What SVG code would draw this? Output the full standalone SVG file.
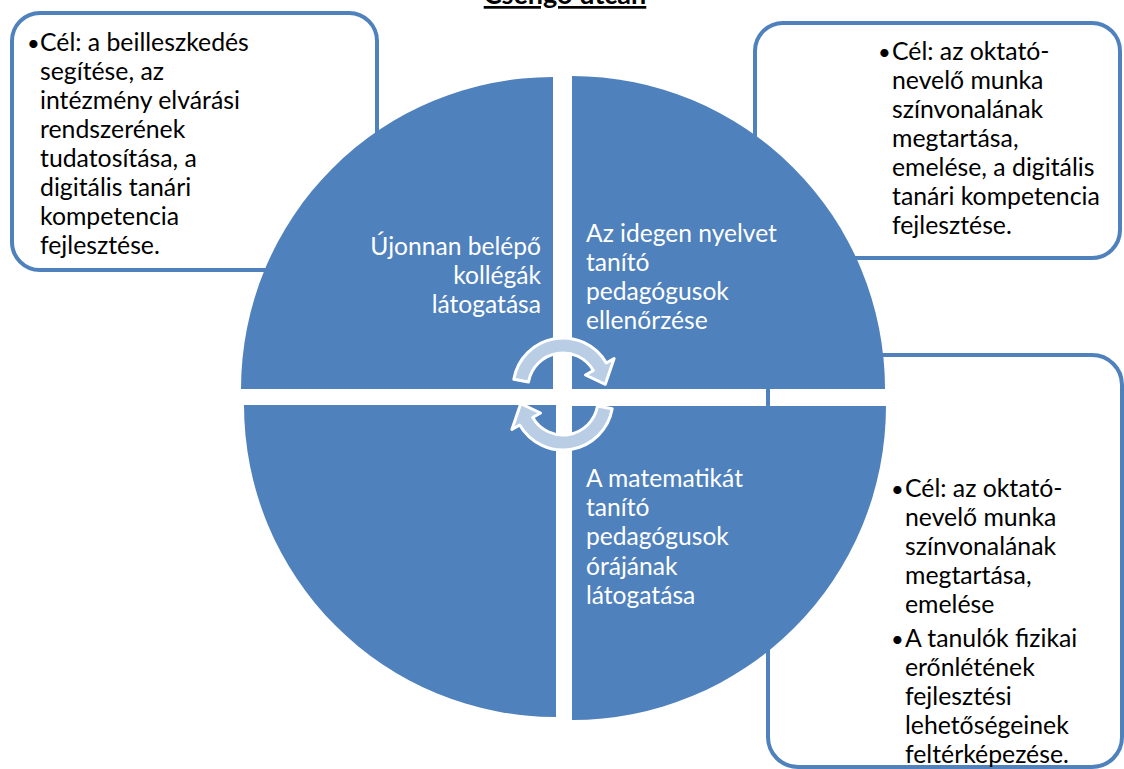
<svg xmlns="http://www.w3.org/2000/svg" width="1124" height="769" viewBox="0 0 1124 769">
<style>
.box{fill:#fff;stroke:#4F81BD;stroke-width:4}
.pie{fill:#4F81BD}
.wt{font-family:Lato,"Liberation Sans",sans-serif;font-size:24.6px;fill:#fff}
.bt{font-family:Lato,"Liberation Sans",sans-serif;font-size:24.8px;fill:#000}
.bul{font-family:Lato,"Liberation Sans",sans-serif;font-size:22px;fill:#000}
.arr{fill:#B9CDE5;stroke:#fff;stroke-width:3;stroke-linejoin:round}
.title{font-family:Lato,"Liberation Sans",sans-serif;font-size:27px;font-weight:bold;fill:#000;text-decoration:underline}
</style>
<rect width="1124" height="769" fill="#fff"/>
<text class="title" x="565" y="4" text-anchor="middle">Csengő utcán</text>
<g id="box-tl">
<rect class="box" x="12" y="13" width="365" height="257" rx="28"/>
<text class="bul" x="27" y="51">•</text>
<text class="bt"><tspan x="40" y="51">Cél: a beilleszkedés</tspan><tspan x="40" y="80">segítése, az</tspan><tspan x="40" y="109">intézmény elvárási</tspan><tspan x="40" y="138">rendszerének</tspan><tspan x="40" y="167">tudatosítása, a</tspan><tspan x="40" y="196">digitális tanári</tspan><tspan x="40" y="225">kompetencia</tspan><tspan x="40" y="254">fejlesztése.</tspan></text>
</g>
<g id="box-tr">
<rect class="box" x="755" y="23" width="365" height="235" rx="28"/>
<text class="bul" x="878" y="60">•</text>
<text class="bt"><tspan x="892" y="60">Cél: az oktató-</tspan><tspan x="892" y="89">nevelő munka</tspan><tspan x="892" y="118">színvonalának</tspan><tspan x="892" y="147">megtartása,</tspan><tspan x="892" y="176">emelése, a digitális</tspan><tspan x="892" y="205">tanári kompetencia</tspan><tspan x="892" y="234">fejlesztése.</tspan></text>
</g>
<g id="box-br">
<rect class="box" x="768" y="355" width="354" height="412" rx="30"/>
<text class="bul" x="891" y="497">•</text>
<text class="bul" x="891" y="647">•</text>
<text class="bt"><tspan x="905" y="497">Cél: az oktató-</tspan><tspan x="905" y="526">nevelő munka</tspan><tspan x="905" y="555">színvonalának</tspan><tspan x="905" y="584">megtartása,</tspan><tspan x="905" y="613">emelése</tspan><tspan x="905" y="647">A tanulók fizikai</tspan><tspan x="905" y="676">erőnlétének</tspan><tspan x="905" y="705">fejlesztési</tspan><tspan x="905" y="734">lehetőségeinek</tspan><tspan x="905" y="763">feltérképezése.</tspan></text>
</g>
<g id="q-tl">
<path class="pie" d="M553,389 L241,389 A312,312 0 0 1 553,77 Z"/>
<text class="wt" text-anchor="end"><tspan x="541" y="255">Újonnan belépő</tspan><tspan x="541" y="284">kollégák</tspan><tspan x="541" y="313">látogatása</tspan></text>
</g>
<g id="q-tr">
<path class="pie" d="M572,389 L572,76 A313,313 0 0 1 885,389 Z"/>
<text class="wt"><tspan x="586" y="242">Az idegen nyelvet</tspan><tspan x="586" y="271">tanító</tspan><tspan x="586" y="300">pedagógusok</tspan><tspan x="586" y="329">ellenőrzése</tspan></text>
</g>
<g id="q-bl">
<path class="pie" d="M556,405 L556,717 A312,312 0 0 1 244,405 Z"/>
</g>
<g id="q-br">
<path class="pie" d="M572,406 L886,406 A314,314 0 0 1 572,720 Z"/>
<text class="wt"><tspan x="586" y="487">A matematikát</tspan><tspan x="586" y="516">tanító</tspan><tspan x="586" y="545">pedagógusok</tspan><tspan x="586" y="575">órájának</tspan><tspan x="586" y="604">látogatása</tspan></text>
</g>
<g id="connectors">
<path class="arr" d="M513.8,379.3 A50,50 0 0 1 606.3,363 L614.1,358.5 L605.3,384.3 L585.5,375 L593.3,370.5 A35,35 0 0 0 528.5,381.9 Z"/>
<path class="arr" d="M612.2,408.7 A50,50 0 0 1 519.7,425 L511.9,429.5 L520.7,403.7 L540.5,413 L532.7,417.5 A35,35 0 0 0 597.5,406.1 Z"/>
</g>
</svg>
